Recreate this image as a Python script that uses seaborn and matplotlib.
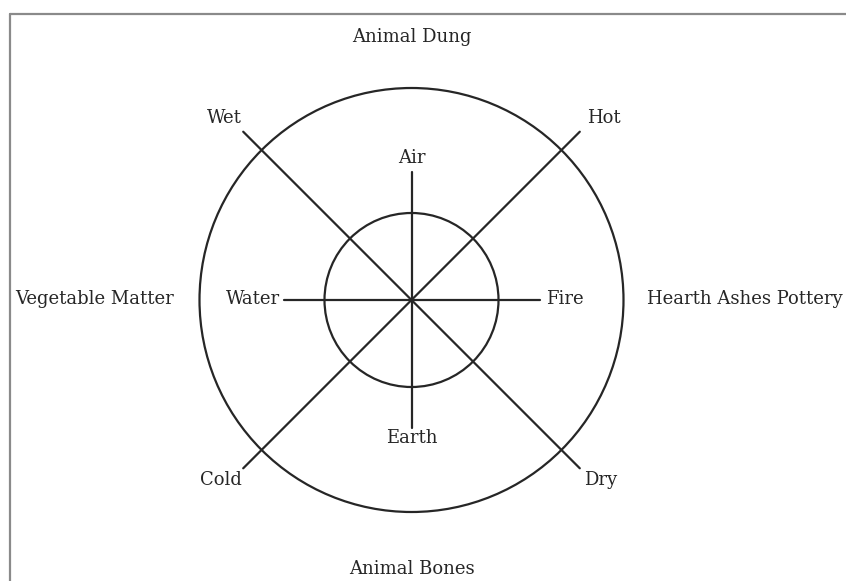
import numpy as np
import pandas as pd
import matplotlib
matplotlib.use("Agg")
import matplotlib.pyplot as plt
import seaborn as sns

# --- DIAGRAM DATA (pixel units of the 846x581 canvas) ---
center = (411.5, 300)
ring_radii = [87, 212]

spoke_names = ["Hot", "Wet", "Cold", "Dry", "Air", "Water", "Earth", "Fire"]
spoke_angles = [45, 135, 225, 315, 90, 180, 270, 0]
spoke_lengths = [238, 238, 238, 238, 128, 128, 128, 128]

# label text and position (x, y, horizontal alignment)
label_text = ["Animal Dung", "Wet", "Hot", "Air", "Vegetable Matter", "Water", "Fire",
              "Hearth Ashes Pottery", "Earth", "Cold", "Dry", "Animal Bones"]
label_x = [412, 224, 604, 412, 15, 280, 546, 647, 412, 221, 601, 412]
label_y = [37, 118, 118, 158, 299, 299, 299, 299, 438, 480, 480, 569]
label_ha = ["center", "center", "center", "center", "left", "right", "left",
            "left", "center", "center", "center", "center"]

LINE = "#262626"
TEXT = "#262626"

sns.set_style("white")
plt.rcParams["font.family"] = ["DejaVu Serif"]

fig = plt.figure(figsize=(8.46, 5.81), dpi=100)
ax = fig.add_axes([0, 0, 1, 1])
ax.set_xlim(0, 846)
ax.set_ylim(581, 0)
ax.axis("off")

# frame (top and left edges only visible)
ax.plot([10, 846], [14, 14], color="#8a8a8a", lw=1.6, clip_on=False)
ax.plot([10, 10], [14, 581], color="#8a8a8a", lw=1.6, clip_on=False)

# spokes from the centre
rows = []
for name, ang, ln in zip(spoke_names, spoke_angles, spoke_lengths):
    a = np.deg2rad(ang)
    rows.append({"spoke": name, "step": 0, "x": center[0], "y": center[1]})
    rows.append({"spoke": name, "step": 1,
                 "x": center[0] + ln * np.cos(a), "y": center[1] - ln * np.sin(a)})
spokes = pd.DataFrame(rows)
sns.lineplot(data=spokes, x="x", y="y", units="spoke", estimator=None, sort=False,
             color=LINE, lw=1.6, ax=ax)

# rings
for r in ring_radii:
    ax.add_patch(plt.Circle(center, r, fill=False, edgecolor=LINE, lw=1.6))

for txt, x, y, ha in zip(label_text, label_x, label_y, label_ha):
    ax.text(x, y, txt, ha=ha, va="center", fontsize=13, color=TEXT)

ax.set_xlim(0, 846)
ax.set_ylim(581, 0)
ax.set_xlabel("")
ax.set_ylabel("")

fig.savefig("out.png", dpi=100)
